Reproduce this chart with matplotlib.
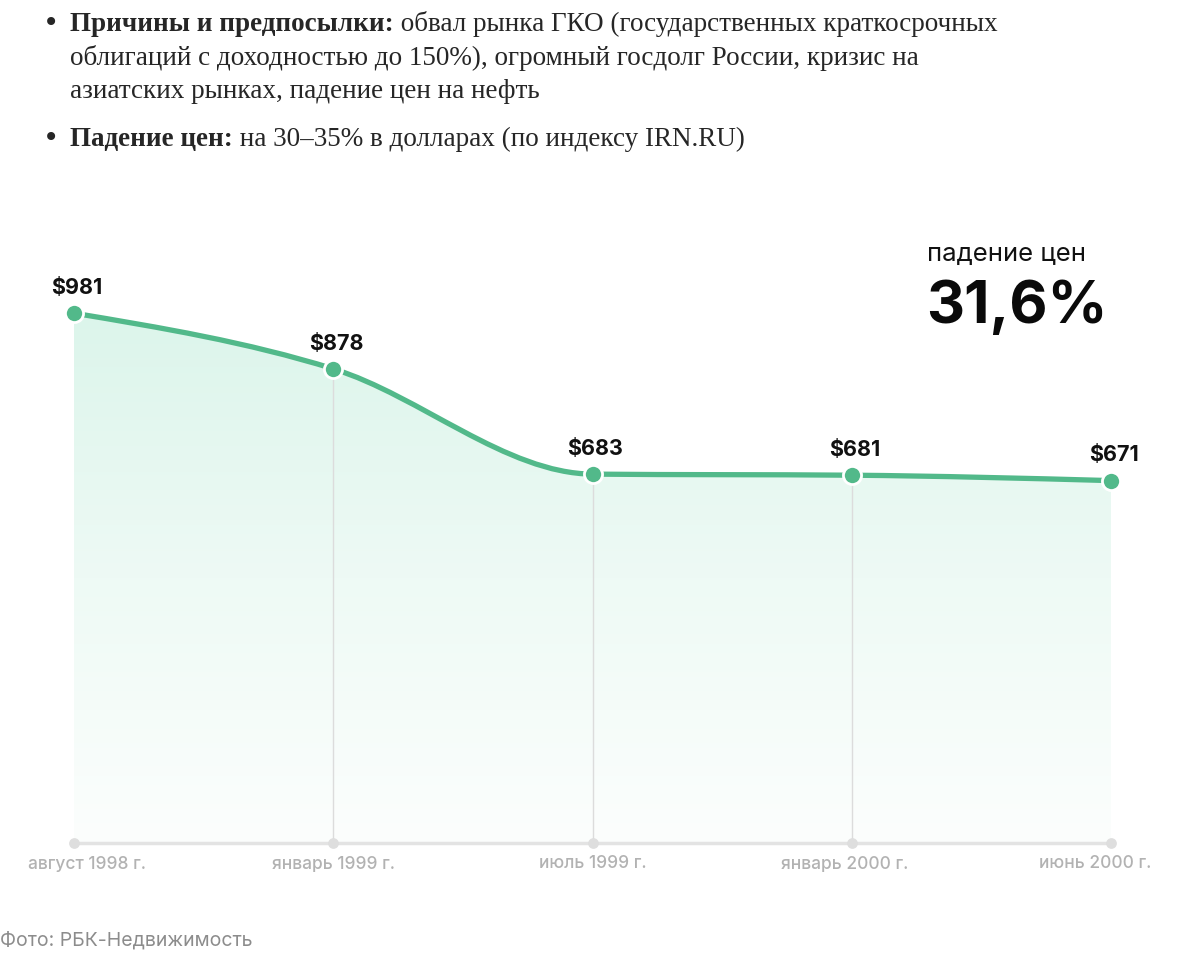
import numpy as np
import matplotlib
matplotlib.use("Agg")
import matplotlib.pyplot as plt
from matplotlib.path import Path
from matplotlib.patches import PathPatch
from matplotlib.colors import LinearSegmentedColormap

# data
dates = ["август 1998 г.", "январь 1999 г.", "июль 1999 г.", "январь 2000 г.", "июнь 2000 г."]
prices = [981, 878, 683, 681, 671]
drop_pct = "31,6%"

bullet_1_bold = "Причины и предпосылки:"
bullet_1_rest = [" обвал рынка ГКО (государственных краткосрочных",
                 "облигаций с доходностью до 150%), огромный госдолг России, кризис на",
                 "азиатских рынках, падение цен на нефть"]
bullet_2_bold = "Падение цен:"
bullet_2_rest = " на 30–35% в долларах (по индексу IRN.RU)"
source = "Фото: РБК-Недвижимость"

GREEN = "#52b98a"
W, H = 1200, 960
SERIF = "Liberation Serif"
SANS = "Inter"
TEXT = "#262626"

fig = plt.figure(figsize=(W / 100, H / 100), dpi=100)

# full-figure helper axes for the text block
bg = fig.add_axes([0, 0, 1, 1])
bg.set_xlim(0, W)
bg.set_ylim(H, 0)
bg.axis("off")

# ------------------------------------------
# text block on top
# ------------------------------------------
fs_body = 19.5
line_bottoms = [37, 71, 104, 152]

for lb in (line_bottoms[0], line_bottoms[3]):
    bg.text(51, lb - 14, "•", fontsize=20, family="DejaVu Sans", va="center",
            ha="center", color=TEXT)

t = bg.text(70, line_bottoms[0], bullet_1_bold, fontsize=fs_body, family=SERIF,
            weight="bold", va="bottom", color=TEXT)
bg.annotate(bullet_1_rest[0], xy=(1, 0), xycoords=t, va="bottom", ha="left",
            fontsize=fs_body, family=SERIF, color=TEXT, annotation_clip=False)
for i, line in enumerate(bullet_1_rest[1:]):
    bg.text(70, line_bottoms[i + 1], line, fontsize=fs_body, family=SERIF,
            va="bottom", color=TEXT)

t2 = bg.text(70, line_bottoms[3], bullet_2_bold, fontsize=fs_body, family=SERIF,
             weight="bold", va="bottom", color=TEXT)
bg.annotate(bullet_2_rest, xy=(1, 0), xycoords=t2, va="bottom", ha="left",
            fontsize=fs_body, family=SERIF, color=TEXT, annotation_clip=False)

# highlight + source
bg.text(927, 266, "падение цен", fontsize=18.5, family=SANS, color="#111111",
        va="bottom", ha="left")
bg.text(926, 323, drop_pct, fontsize=42.5, family=SANS, weight="bold",
        color="#0a0a0a", va="baseline", ha="left")
bg.text(0, 950, source, fontsize=14, family=SANS, color="#8c8c8c",
        va="bottom", ha="left")

# ------------------------------------------
# chart
# ------------------------------------------
ax = fig.add_axes([74 / W, 1 - 843 / H, (1111 - 74) / W, (843 - 250) / H])
ax.set_xlim(0, len(prices) - 1)
ax.set_ylim(0, 1098)
ax.axis("off")

x = np.arange(len(prices), dtype=float)
y = np.array(prices, dtype=float)

# monotone cubic tangents (like d3.curveMonotoneX)
h = np.diff(x)
s = np.diff(y) / h
m = np.zeros_like(y)
for k in range(1, len(y) - 1):
    p = (s[k - 1] * h[k] + s[k] * h[k - 1]) / (h[k - 1] + h[k])
    m[k] = (np.sign(s[k - 1]) + np.sign(s[k])) * min(abs(s[k - 1]), abs(s[k]), 0.5 * abs(p))
m[0] = (3 * s[0] - m[1]) / 2
m[-1] = (3 * s[-1] - m[-2]) / 2

verts = [(x[0], y[0])]
codes = [Path.MOVETO]
for k in range(len(x) - 1):
    d = h[k] / 3
    verts += [(x[k] + d, y[k] + m[k] * d), (x[k + 1] - d, y[k + 1] - m[k + 1] * d), (x[k + 1], y[k + 1])]
    codes += [Path.CURVE4] * 3
curve = Path(verts, codes)

area = Path(verts + [(x[-1], 0), (x[0], 0), (x[0], y[0])],
            codes + [Path.LINETO, Path.LINETO, Path.CLOSEPOLY])
clip = PathPatch(area, facecolor="none", edgecolor="none", transform=ax.transData)
ax.add_patch(clip)

cmap = LinearSegmentedColormap.from_list("mint", ["#fcfefd", "#eefaf5", "#dcf5eb"])
grad = np.linspace(0, 1, 256).reshape(-1, 1)
img = ax.imshow(grad, extent=[x[0], x[-1], 0, y.max()], origin="lower", aspect="auto",
                cmap=cmap, zorder=1)
img.set_clip_path(clip)

# vertical guides
for k in range(1, len(x) - 1):
    ax.plot([x[k], x[k]], [0, y[k]], color="#dcdcdc", lw=1, zorder=2)

# baseline
ax.plot([x[0], x[-1]], [0, 0], color="#e3e3e3", lw=2.5, zorder=2, clip_on=False,
        solid_capstyle="round")
ax.scatter(x, np.zeros_like(x), s=45, color="#dedede", zorder=3, clip_on=False)

ax.add_patch(PathPatch(curve, facecolor="none", edgecolor=GREEN, lw=3.8, zorder=4,
                       capstyle="round"))
ax.scatter(x, y, s=170, color=GREEN, edgecolor="white", linewidth=2, zorder=5, clip_on=False)

for xi, yi in zip(x, prices):
    ax.annotate(f"${yi}", (xi, yi), xytext=(2, 11), textcoords="offset points",
                ha="center", va="bottom", fontsize=15.5, weight="bold", family=SANS,
                color="#111111", annotation_clip=False)

# end labels are nudged inward like in the original layout
label_shift = [9.5, 0, 0, -5, -11.5]
for xi, lab, dx in zip(x, dates, label_shift):
    ax.annotate(lab, (xi, 0), xytext=(dx, -9), textcoords="offset points",
                ha="center", va="top", fontsize=12.5, family=SANS, weight="medium",
                color="#b2b2b2", annotation_clip=False)

fig.savefig("out.png", dpi=100)
